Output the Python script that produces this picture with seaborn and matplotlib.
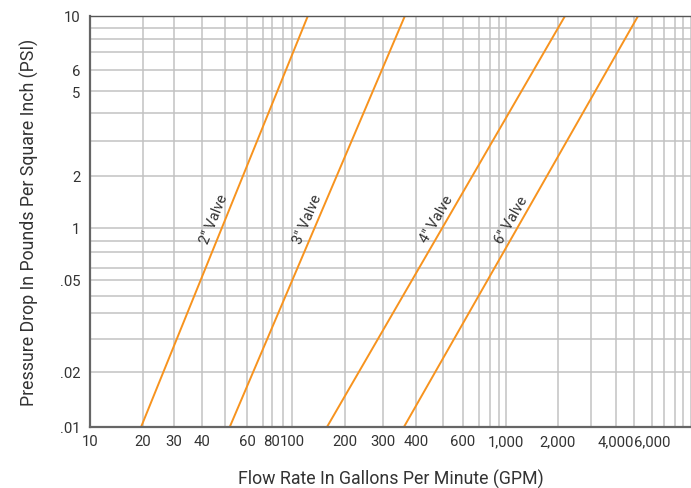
import numpy as np
import pandas as pd
import matplotlib
matplotlib.use("Agg")
import matplotlib.pyplot as plt
import seaborn as sns

# valve curves: flow (GPM) at the bottom and top of the chart
valves = ['2″ Valve', '3″ Valve', '4″ Valve', '6″ Valve']
gpm_low = [19.5, 52, 158, 360]
gpm_high = [123, 363, 2180, 5210]
psi_ends = [0.1, 10]

# grid values of the printed chart
x_grid = [10, 20, 30, 40, 50, 60, 70, 80, 90,
          100, 200, 300, 400, 500, 600, 700, 800, 900,
          1000, 2000, 3000, 4000, 5000, 6000, 7000, 8000, 9000, 10000]
x_labels = {10: '10', 20: '20', 30: '30', 40: '40', 60: '60', 80: '80', 100: '100',
            200: '200', 300: '300', 400: '400', 600: '600', 1000: '1,000',
            2000: '2,000', 4000: '4,000', 6000: '6,000'}
y_grid = [0.1, 0.2, 0.3, 0.4, 0.5, 0.6, 0.7, 0.8, 0.9,
          1, 2, 3, 4, 5, 6, 7, 8, 9, 10]
y_labels = {10: '10', 6: '6', 5: '5', 2: '2', 1: '1', 0.6: '.05', 0.2: '.02', 0.1: '.01'}

# the printed grid is hand spaced, so the scale follows its ruling
x_rule = [0, 53, 84, 112, 135, 157, 173, 182, 193,
          202, 255, 293, 326, 353, 373, 389, 400, 409,
          416, 468, 501, 526, 544, 562, 574, 585, 593, 601]
y_rule = [0, 55, 88, 114, 131, 147, 159, 175, 186,
          199, 251, 286, 314, 336, 357, 375, 388, 399, 411]


def ruled_scale(vals, rule):
    lv = np.log10(vals)
    rule = np.asarray(rule, float)

    def fwd(v):
        v = np.clip(np.asarray(v, float), 1e-9, None)
        return np.interp(np.log10(v), lv, rule)

    def inv(p):
        return 10 ** np.interp(np.asarray(p, float), rule, lv)
    return fwd, inv


rows = []
for name, lo, hi in zip(valves, gpm_low, gpm_high):
    rows.append({'valve': name, 'gpm': lo, 'psi': psi_ends[0]})
    rows.append({'valve': name, 'gpm': hi, 'psi': psi_ends[1]})
df = pd.DataFrame(rows)

sns.set_theme(style="white")
plt.rcParams['font.family'] = ['Roboto', 'DejaVu Sans']
text_color = '#333333'
orange = '#F7931E'

fig = plt.figure(figsize=(6.91, 4.89), dpi=100)
ax = fig.add_axes([90 / 691, 61 / 489, 601 / 691, 411 / 489])

sns.lineplot(data=df, x='gpm', y='psi', hue='valve', palette=[orange] * 4,
             legend=False, linewidth=1.4, ax=ax, sort=False, estimator=None)

ax.set_xscale('function', functions=ruled_scale(x_grid, x_rule))
ax.set_yscale('function', functions=ruled_scale(y_grid, y_rule))
ax.set_xlim(10, 10000)
ax.set_ylim(0.1, 10)

ax.set_xticks(x_grid, [x_labels.get(v, '') for v in x_grid])
ax.set_yticks(y_grid, [y_labels.get(v, '') for v in y_grid])
ax.minorticks_off()
ax.tick_params(axis='both', length=0, labelsize=10.7, colors=text_color)
ax.tick_params(axis='x', pad=5)
ax.tick_params(axis='y', pad=7)
ax.grid(True, color='#c2c2c2', linewidth=1.1)

ax.set_xlabel('Flow Rate In Gallons Per Minute (GPM)', fontsize=12.8, color=text_color, labelpad=15)
ax.set_ylabel('Pressure Drop In Pounds Per Square Inch (PSI)', fontsize=12.8, color=text_color, labelpad=15)

for side in ['left', 'bottom']:
    ax.spines[side].set_color('#666666')
    ax.spines[side].set_linewidth(1.6)
ax.spines['top'].set_color('#555555')
ax.spines['top'].set_linewidth(1.0)
ax.spines['right'].set_visible(False)

# valve names written along each curve
label_psi = 1.13
for name, lo, hi in zip(valves, gpm_low, gpm_high):
    p0 = ax.transData.transform((lo, psi_ends[0]))
    p1 = ax.transData.transform((hi, psi_ends[1]))
    angle = np.degrees(np.arctan2(p1[1] - p0[1], p1[0] - p0[0]))
    ylab = ax.transData.transform((lo, label_psi))[1]
    t = (ylab - p0[1]) / (p1[1] - p0[1])
    xlab = p0[0] + t * (p1[0] - p0[0])
    ax.annotate(name, xy=(xlab, ylab), xycoords='figure pixels',
                xytext=(-8, 0), textcoords='offset points',
                rotation=angle, rotation_mode='anchor', ha='center', va='center',
                fontsize=10.5, color=text_color)

plt.savefig('out.png', dpi=100)
